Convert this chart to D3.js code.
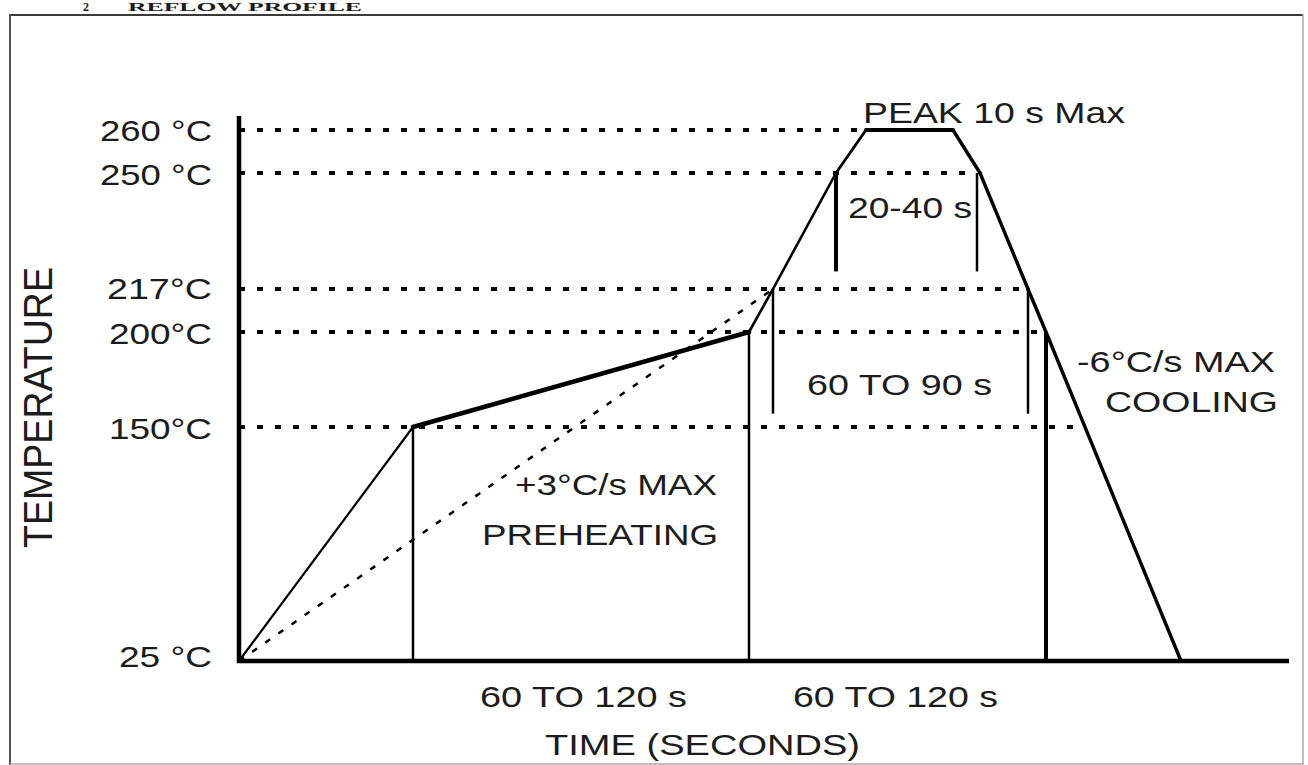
<!DOCTYPE html>
<html>
<head>
<meta charset="utf-8">
<script src="https://cdn.jsdelivr.net/npm/d3@7/dist/d3.min.js"></script>
<style>
  html, body { margin: 0; padding: 0; background: #fff; }
  svg { display: block; }
  text { font-family: "Liberation Sans", Arial, Helvetica, sans-serif; fill: #1c1c1c; }
</style>
</head>
<body>
<svg id="chart" width="1308" height="765"></svg>
<script>
// ---------------- data ----------------
// reflow profile (time in seconds, temperature in °C)
const profileTimes = [0, 58, 170, 178, 199, 209, 238, 247, 263, 269, 314];
const profileTemps = [25, 150, 200, 217, 250, 260, 260, 250, 217, 200, 25];

// dotted max-ramp reference line
const rampTimes = [0, 178];
const rampTemps = [25, 217];

// horizontal dotted reference levels and where they stop
const refTemps = [260, 250, 217, 200, 150];
const refEndTimes = [209, 246, 263, 269, 278];

// y tick values & labels
const tickTemps = [260, 250, 217, 200, 150, 25];
const tickLabels = ["260 °C", "250 °C", "217°C", "200°C", "150°C", "25 °C"];

// vertical interval markers
const markerTimes = [58, 170, 178, 199, 246, 263, 269];
const markerLow   = [25, 25, 157, 222, 222, 157, 25];
const markerHigh  = [150, 200, 217, 250, 250, 217, 200];

// annotation texts
const titleTexts = ["2", "REFLOW PROFILE"];
const annotationTexts = ["PEAK 10 s Max", "20-40 s", "60 TO 90 s", "-6°C/s MAX", "COOLING",
                         "+3°C/s MAX", "PREHEATING", "60 TO 120 s", "60 TO 120 s"];
const xAxisTitle = "TIME (SECONDS)";
const yAxisTitle = "TEMPERATURE";

// ---------------- scales ----------------
const svg = d3.select("#chart");
const x = d3.scaleLinear().domain([0, 350]).range([239, 1289]);
const y = d3.scaleLinear().domain([25, 150, 200, 217, 250, 260]).range([661, 427, 332, 289, 173, 130]);

// ---------------- frame & title ----------------
svg.append("line").attr("x1", 9).attr("x2", 1303).attr("y1", 15).attr("y2", 15)
   .attr("stroke", "#3a3a3a").attr("stroke-width", 2);
svg.append("line").attr("x1", 10).attr("x2", 10).attr("y1", 14).attr("y2", 765)
   .attr("stroke", "#555").attr("stroke-width", 2);
svg.append("line").attr("x1", 1303).attr("x2", 1303).attr("y1", 14).attr("y2", 765)
   .attr("stroke", "#aaa").attr("stroke-width", 1.5);
svg.append("line").attr("x1", 10).attr("x2", 1303).attr("y1", 764).attr("y2", 764)
   .attr("stroke", "#aaa").attr("stroke-width", 1.5);

svg.append("text").text(titleTexts[0]).attr("x", 83).attr("y", 11)
   .style("font-family", "'Liberation Serif', serif").style("font-weight", "bold").style("font-size", "12px");
svg.append("text").text(titleTexts[1]).attr("x", 128).attr("y", 11)
   .attr("textLength", 234).attr("lengthAdjust", "spacingAndGlyphs")
   .style("font-family", "'Liberation Serif', serif").style("font-weight", "bold").style("font-size", "12px");

// ---------------- dotted reference levels ----------------
svg.append("g").selectAll("line").data(refTemps).join("line")
   .attr("x1", x(0)).attr("x2", (d, i) => x(refEndTimes[i]))
   .attr("y1", d => y(d)).attr("y2", d => y(d))
   .attr("stroke", "#000").attr("stroke-width", 4).attr("stroke-dasharray", "6,12");

// dotted ramp line
const lineGen = d3.line().x(d => x(d[0])).y(d => y(d[1]));
svg.append("path").datum(rampTimes.map((t, i) => [t, rampTemps[i]]))
   .attr("d", lineGen).attr("fill", "none").attr("stroke", "#000")
   .attr("stroke-width", 2.5).attr("stroke-dasharray", "6,10");

// ---------------- axes ----------------
svg.append("line").attr("x1", x(0)).attr("x2", x(0)).attr("y1", 116).attr("y2", y(25) + 2)
   .attr("stroke", "#000").attr("stroke-width", 4.5);
svg.append("line").attr("x1", x(0) - 2).attr("x2", x(350)).attr("y1", y(25)).attr("y2", y(25))
   .attr("stroke", "#000").attr("stroke-width", 4.5);

const tickLengths = [112, 112, 105, 103, 103, 93];
const tickDy = [10, 11, 9, 11, 11, 5];
const yAxis = d3.axisLeft(y).tickValues(tickTemps)
   .tickFormat((d, i) => tickLabels[i]).tickSize(0).tickPadding(0);
const gy = svg.append("g").attr("transform", "translate(212,0)").call(yAxis);
gy.select(".domain").remove();
gy.selectAll("text")
   .attr("font-size", null).attr("font-family", null)
   .style("font-size", "30px").style("fill", "#1c1c1c")
   .attr("dy", null)
   .attr("y", (d, i) => tickDy[i])
   .attr("textLength", (d, i) => tickLengths[i])
   .attr("lengthAdjust", "spacingAndGlyphs");

// ---------------- vertical markers ----------------
const markerWidths = [2.5, 2.5, 2.5, 4, 2.5, 2.5, 4];
svg.append("g").selectAll("line").data(markerTimes).join("line")
   .attr("x1", d => x(d)).attr("x2", d => x(d))
   .attr("y1", (d, i) => y(markerLow[i])).attr("y2", (d, i) => y(markerHigh[i]))
   .attr("stroke", "#000").attr("stroke-width", (d, i) => markerWidths[i]);

// ---------------- profile ----------------
const segWidths = [2.2, 4.5, 2.6, 2.6, 2.8, 4, 3.4, 3.4, 3.4, 3.4];
const segs = d3.pairs(profileTimes.map((t, i) => [t, profileTemps[i]]));
svg.append("g").selectAll("path").data(segs).join("path")
   .attr("d", d => lineGen(d)).attr("fill", "none").attr("stroke", "#000")
   .attr("stroke-linecap", "round")
   .attr("stroke-width", (d, i) => segWidths[i]);

// ---------------- annotations ----------------
// [x, baseline, anchor, textLength]
const annLayout = [
  [863, 123, "start", 262],
  [848, 218, "start", 124],
  [807, 395, "start", 185],
  [1275, 372, "end", 198],
  [1278, 412, "end", 173],
  [717, 495, "end", 202],
  [482, 545, "start", 236],
  [480, 707, "start", 207],
  [793, 707, "start", 205]
];
svg.append("g").selectAll("text").data(annotationTexts).join("text")
   .text(d => d)
   .attr("x", (d, i) => annLayout[i][0]).attr("y", (d, i) => annLayout[i][1])
   .attr("text-anchor", (d, i) => annLayout[i][2])
   .attr("textLength", (d, i) => annLayout[i][3]).attr("lengthAdjust", "spacingAndGlyphs")
   .style("font-size", "30px");

svg.append("text").text(xAxisTitle)
   .attr("x", 545).attr("y", 755)
   .attr("textLength", 315).attr("lengthAdjust", "spacingAndGlyphs")
   .style("font-size", "30px");

svg.append("text").text(yAxisTitle)
   .attr("transform", "translate(52,407.5) scale(1.33,1) rotate(-90)")
   .attr("text-anchor", "middle")
   .attr("textLength", 281).attr("lengthAdjust", "spacingAndGlyphs")
   .style("font-size", "30px");
</script>
</body>
</html>
